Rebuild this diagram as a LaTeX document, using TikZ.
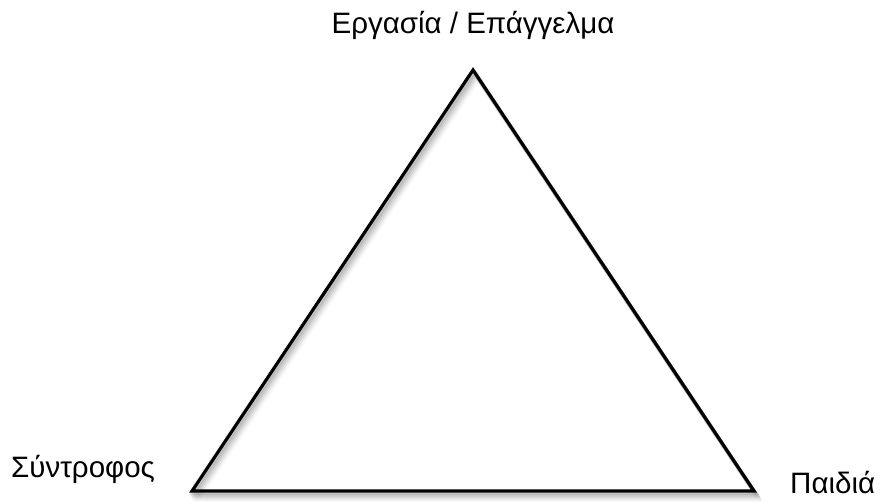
\documentclass[tikz,border=0pt]{standalone}
\usepackage{fontspec}
\setmainfont{Liberation Sans}
\begin{document}
\begin{tikzpicture}[x=1pt,y=-1pt,
  lbl/.style={inner sep=0pt,font=\fontsize{29.5}{34}\selectfont},
  tri/.style={line width=3.2pt,line join=miter}]
\useasboundingbox (0,0) rectangle (882,501);
\coordinate (A) at (473,70);
\coordinate (B) at (192,491);
\coordinate (C) at (754,491);
% shadow
\foreach \d/\o in {2/0.30,3.5/0.24,5/0.18,6.5/0.12,8/0.07,9.5/0.04}{
  \draw[line width=4pt,gray,opacity=\o,line join=miter] ([shift={(\d*0.6,\d)}]A) -- ([shift={(\d*0.6,\d)}]B) -- ([shift={(\d*0.6,\d)}]C) -- cycle;
}
\draw[tri] (A) -- (B) -- (C) -- cycle;
\node[lbl,anchor=base] (top) at (473,33) {Εργασία / Επάγγελμα};
\node[lbl,anchor=base west] (left) at (11,477) {Σύντροφος};
\node[lbl,anchor=base west] (right) at (790,493) {Παιδιά};
\end{tikzpicture}
\end{document}
